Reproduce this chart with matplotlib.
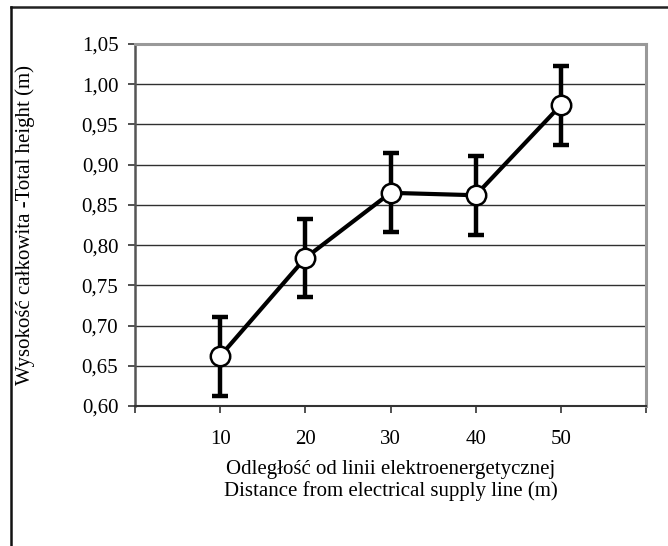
import numpy as np
import matplotlib.pyplot as plt
from matplotlib.lines import Line2D

plt.rcParams['font.family'] = ['Liberation Serif', 'DejaVu Serif']

distance = [10, 20, 30, 40, 50]
height = [0.662, 0.784, 0.865, 0.862, 0.974]
err = [0.049, 0.049, 0.049, 0.049, 0.049]
yticks = [0.60, 0.65, 0.70, 0.75, 0.80, 0.85, 0.90, 0.95, 1.00, 1.05]

fig = plt.figure(figsize=(6.68, 5.46), dpi=100)
ax = fig.add_axes([0.2021, 0.2564, 0.7650, 0.6630])

ax.errorbar(distance, height, yerr=err, fmt='none', ecolor='black',
            elinewidth=3.2, capsize=5.5, capthick=3.2, zorder=3)
ax.plot(distance, height, color='black', lw=3, marker='o', markersize=14,
        markerfacecolor='white', markeredgecolor='black', markeredgewidth=1.8,
        zorder=4)

ax.set_xlim(0, 60)
ax.set_ylim(0.60, 1.05)
ax.set_xticks(range(0, 61, 10))
ax.set_xticklabels([''] + [str(d) for d in distance] + [''])
ax.set_yticks(yticks)
ax.set_yticklabels([f'{v:.2f}'.replace('.', ',') for v in yticks])
ax.yaxis.grid(True, color='#303030', lw=1)
ax.set_axisbelow(True)

for s in ['top', 'right']:
    ax.spines[s].set_color('#999999')
    ax.spines[s].set_linewidth(2.2)
ax.spines['left'].set_color('#555555')
ax.spines['left'].set_linewidth(1.8)
ax.spines['bottom'].set_color('#333333')
ax.spines['bottom'].set_linewidth(1.5)

ax.tick_params(axis='both', direction='out', length=5, width=1.2,
               color='#333333', labelsize=15)
ax.tick_params(axis='y', pad=7)
ax.tick_params(axis='x', pad=12)

ax.set_xlabel('Odległość od linii elektroenergetycznej\nDistance from electrical supply line (m)',
              fontsize=15, labelpad=8, linespacing=1.15)
ax.set_ylabel('Wysokość całkowita -Total height (m)', fontsize=15)
ax.yaxis.set_label_coords(-0.196, 0.5)

fig.add_artist(Line2D([0.0165, 1.0], [0.987, 0.987], color='#222222', lw=1.8,
                      transform=fig.transFigure))
fig.add_artist(Line2D([0.0165, 0.0165], [0.0, 0.987], color='#111111', lw=1.8,
                      transform=fig.transFigure))

fig.savefig('out.png', dpi=100)
